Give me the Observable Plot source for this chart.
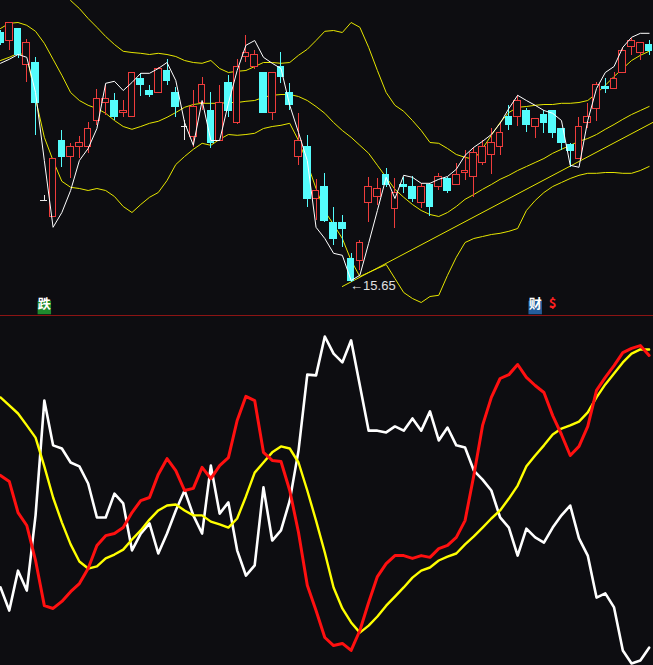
<!DOCTYPE html>
<html><head><meta charset="utf-8">
<script src="https://cdn.jsdelivr.net/npm/d3@7"></script>
<script src="https://cdn.jsdelivr.net/npm/@observablehq/plot@0.6"></script>
<style>
html,body{margin:0;padding:0;background:#0d0d11;}
#chart{width:653px;height:665px;overflow:hidden;background:#0d0d11;}
#divider{height:1px;background:#8c1414;}
svg{display:block;overflow:hidden;}
</style></head><body><div id="chart"></div>
<script>
// ---- candle data (index 0..74) ----
const opens  = [21.90,21.68,21.98,21.08,21.15,17.70,17.28,19.18,18.78,19.03,19.05,19.70,20.13,20.20,19.88,19.78,20.75,20.45,20.38,20.95,20.40,19.55,19.30,20.13,19.93,19.18,20.63,19.65,21.28,21.05,20.88,19.90,21.03,20.40,18.78,19.03,17.73,18.05,17.15,17.15,16.23,16.20,17.63,17.78,18.33,17.50,18.08,18.05,17.65,18.10,18.05,18.23,18.10,18.38,18.28,18.63,18.83,19.03,19.78,19.78,19.95,19.53,19.85,19.95,19.48,19.08,18.75,19.63,19.98,20.53,20.50,20.90,21.53,21.38,21.58];
const highs  = [21.95,22.15,22.00,21.73,21.28,17.83,18.75,19.45,19.13,19.30,19.65,20.48,20.58,20.38,20.20,20.90,20.88,20.58,21.03,21.23,20.53,19.70,20.45,20.78,20.40,20.58,20.83,21.23,21.83,21.45,20.88,20.90,21.40,20.63,19.88,19.33,18.23,18.38,17.53,17.33,16.38,16.70,18.28,18.25,18.50,18.25,18.28,18.30,18.13,18.13,18.38,18.28,18.63,18.95,19.03,19.20,19.50,19.63,20.08,20.33,20.00,19.73,19.95,19.95,19.48,19.13,19.78,20.13,20.65,20.75,20.90,21.53,21.75,21.63,21.70];
const lows   = [21.58,21.45,21.25,20.65,19.33,17.70,17.28,18.53,18.25,18.75,18.88,19.58,19.83,19.70,19.78,19.78,20.30,20.28,20.38,20.58,19.78,19.20,19.03,19.95,19.00,19.18,19.78,19.60,21.15,20.98,19.90,19.70,20.63,19.95,18.58,17.53,17.20,17.15,16.58,16.53,15.65,15.95,17.15,17.58,18.03,17.00,17.88,17.65,17.50,17.30,17.95,17.88,18.10,18.20,17.78,18.58,18.35,18.83,19.45,19.55,19.40,19.25,19.38,19.25,18.95,18.53,18.75,19.50,19.68,20.38,20.50,20.90,21.33,21.20,21.33];
const closes = [21.63,22.13,21.35,21.63,20.15,17.70,18.75,18.78,19.05,19.13,19.48,20.23,20.23,19.78,19.95,20.90,20.58,20.35,21.00,20.68,20.03,19.55,20.05,20.58,19.13,20.13,19.93,21.03,21.40,21.33,19.90,20.90,20.78,20.10,19.20,17.73,17.93,17.20,16.73,16.98,15.70,16.65,18.05,18.00,18.08,17.88,18.05,17.73,18.05,17.55,18.28,17.95,18.35,18.43,18.90,19.05,19.15,19.40,19.58,20.20,19.58,19.73,19.63,19.38,19.13,18.95,19.53,19.78,20.58,20.50,20.75,21.45,21.70,21.63,21.43];

// ---- Bollinger bands ----
const upperBand = [23.70,23.83,23.90,23.83,23.70,23.50,23.25,22.95,22.70,22.50,22.25,22.03,21.80,21.60,21.43,21.40,21.38,21.35,21.38,21.35,21.30,21.20,21.15,21.13,21.20,21.00,20.90,20.93,20.95,21.05,21.15,21.15,21.13,21.15,21.33,21.48,21.70,21.93,21.95,21.90,22.15,22.03,21.53,20.95,20.40,20.08,19.93,19.70,19.45,19.15,19.13,19.00,18.85,18.78,18.73,19.00,19.33,19.65,19.90,20.03,20.05,20.08,20.10,20.10,20.13,20.13,20.15,20.20,20.38,20.58,20.80,21.00,21.20,21.33,21.43];
const midBand   = [22.00,22.13,22.15,22.08,21.93,21.63,21.23,20.83,20.40,20.20,20.08,20.00,19.88,19.70,19.55,19.48,19.55,19.63,19.68,19.78,19.90,20.03,20.10,20.13,20.13,20.13,20.15,20.15,20.18,20.20,20.28,20.33,20.35,20.35,20.30,20.20,20.05,19.88,19.65,19.45,19.28,19.08,18.88,18.58,18.28,17.98,17.78,17.60,17.45,17.35,17.30,17.40,17.55,17.73,17.85,17.98,18.10,18.23,18.33,18.45,18.55,18.65,18.75,18.88,18.98,19.08,19.18,19.25,19.35,19.48,19.60,19.73,19.85,19.95,20.05];
const lowerBand = [21.20,21.28,21.38,21.33,20.25,19.28,18.70,18.18,18.03,18.00,17.95,18.00,17.95,17.80,17.55,17.40,17.60,17.78,17.90,18.20,18.60,18.80,18.98,19.13,19.08,19.23,19.35,19.33,19.35,19.38,19.50,19.55,19.58,19.63,19.20,18.63,18.00,17.43,17.10,16.75,16.20,15.80,15.90,16.00,16.10,15.75,15.40,15.25,15.15,15.30,15.33,15.83,16.28,16.65,16.75,16.80,16.85,16.88,16.93,17.00,17.45,17.70,17.90,18.05,18.15,18.25,18.33,18.38,18.38,18.40,18.40,18.38,18.38,18.45,18.55];
// ---- white price line ----
const priceLine = [21.13,21.23,21.35,21.28,20.40,18.70,17.03,17.40,17.95,18.70,19.00,19.50,20.63,20.68,20.45,20.65,20.88,20.88,21.00,21.15,20.70,19.65,19.08,20.20,19.20,19.20,20.13,20.95,21.58,21.70,21.28,21.13,21.00,20.08,19.40,18.70,17.03,16.75,16.38,16.33,15.70,15.83,16.63,17.45,18.28,17.75,18.33,18.28,18.13,18.13,18.23,18.30,18.48,18.83,19.03,19.18,19.35,19.63,20.00,20.33,20.20,20.08,19.95,19.88,19.70,18.58,18.53,19.70,20.50,20.90,21.05,21.53,21.78,21.88,21.88];
// ---- trend line (index, price) ----
const trendIdx   = [39, 74.5];
const trendPrice = [15.55, 19.66];
// ---- event markers ----
const eventIdx   = [5, 61, 63];
const eventText  = ["跌", "财", "$"];
const eventBg    = ["#1f8a2e", "#245e9c", null];
const eventFg    = ["#ffffff", "#ffffff", "#ff2020"];

// ---- lower indicator panel ----
const indWhite  = [22.3,15.7,27.1,21.4,42.9,75.7,62.9,62.0,58.0,56.9,52.0,42.3,42.3,49.1,46.3,32.9,37.7,40.6,32.0,37.7,44.3,50.0,42.9,37.7,57.1,43.4,46.6,32.9,25.7,28.6,50.9,35.7,38.6,47.1,61.4,83.1,82.9,94.0,89.1,86.6,92.9,80.0,67.1,67.1,66.6,68.3,67.1,70.6,67.1,72.6,64.3,68.0,62.9,62.3,55.7,53.1,50.0,42.3,39.4,31.4,39.1,36.6,35.1,39.4,42.9,45.7,36.3,31.4,19.4,20.6,16.6,4.3,0.6,1.4,5.1];
const indRed    = [54.3,52.6,43.7,40.0,30.0,17.1,16.3,18.3,21.1,23.4,27.7,34.3,37.1,37.7,39.4,43.7,47.1,48.0,54.6,59.1,55.7,50.0,50.6,56.6,53.4,57.1,59.4,70.0,76.9,75.7,60.9,58.6,58.3,50.0,38.0,22.9,15.7,8.0,5.7,6.3,4.3,10.0,18.0,25.4,29.1,31.4,31.4,30.6,31.4,30.9,33.4,34.3,36.6,41.4,54.3,68.6,76.6,82.0,83.1,86.0,82.3,80.0,78.0,71.4,66.0,60.0,62.6,68.3,78.6,82.3,85.7,89.4,90.6,91.4,88.6];
const indYellow = [76.6,74.3,72.0,68.6,65.1,56.9,48.0,40.9,34.6,29.7,27.7,28.3,30.6,31.7,33.1,36.0,38.6,41.7,44.3,45.7,46.0,44.3,42.9,42.9,41.1,40.3,39.4,42.0,48.3,55.1,58.0,60.9,62.6,62.0,58.0,50.0,41.4,32.3,22.3,16.3,12.3,9.4,11.4,14.0,17.1,19.7,22.3,25.1,27.1,28.0,30.0,31.1,32.0,34.6,36.9,39.4,42.0,44.3,47.7,51.4,56.9,60.0,62.9,66.0,67.7,68.6,69.7,72.3,76.6,80.3,83.4,86.6,89.1,90.3,90.3];

// ---- build ----
const BG = "#0d0d11", RED = "#ee3c3c", CYAN = "#54fcfc", YEL = "#e6e600";
const W = 653, TOPH = 315, BOTH = 349;
const candles = opens.map((o, i) => ({i, open: o, high: highs[i], low: lows[i], close: closes[i]}));
const colorOf = d => d.close > d.open ? RED : d.close < d.open ? CYAN : "#e8e8e8";
const series = arr => arr.map((v, i) => ({i, v}));
const trend = trendIdx.map((i, k) => ({i, v: trendPrice[k]}));
const events = eventIdx.map((i, k) => ({i, text: eventText[k], bg: eventBg[k], fg: eventFg[k]}));
const minC = candles.reduce((a, b) => b.low < a.low ? b : a);
const BW = 0.38;

const topChart = Plot.plot({
  width: W, height: TOPH, margin: 0,
  x: {domain: [0, 74.5], axis: null},
  y: {domain: [22.7 - TOPH / 40, 22.7], axis: null},
  color: {type: "identity"},
  style: {background: BG},
  marks: [
    Plot.line(series(upperBand), {x: "i", y: "v", stroke: YEL, strokeWidth: 1, clip: true}),
    Plot.line(series(midBand), {x: "i", y: "v", stroke: YEL, strokeWidth: 1, clip: true}),
    Plot.line(series(lowerBand), {x: "i", y: "v", stroke: YEL, strokeWidth: 1, clip: true}),
    Plot.line(trend, {x: "i", y: "v", stroke: YEL, strokeWidth: 1, clip: true}),
    Plot.ruleX(candles, {x: "i", y1: "high", y2: d => Math.max(d.open, d.close), stroke: colorOf, strokeWidth: 1, shapeRendering: "crispEdges"}),
    Plot.ruleX(candles, {x: "i", y1: d => Math.min(d.open, d.close), y2: "low", stroke: colorOf, strokeWidth: 1, shapeRendering: "crispEdges"}),
    Plot.rect(candles.filter(d => d.open !== d.close), {
      x1: d => d.i - BW, x2: d => d.i + BW, y1: "open", y2: "close",
      fill: d => d.close > d.open ? BG : CYAN, stroke: colorOf, strokeWidth: 1, shapeRendering: "crispEdges"
    }),
    Plot.ruleY(candles.filter(d => d.open === d.close), {y: "close", x1: d => d.i - BW, x2: d => d.i + BW, stroke: colorOf, strokeWidth: 1, shapeRendering: "crispEdges"}),
    Plot.line(series(priceLine), {x: "i", y: "v", stroke: "#ffffff", strokeWidth: 1, clip: true}),
    Plot.text([minC], {x: "i", y: "low", text: d => "←" + d.low.toFixed(2), textAnchor: "start", fill: "#e0e0e0", fontSize: 13, fontFamily: "Liberation Sans, Arial, sans-serif", dy: 3, dx: -1}),
    Plot.dot(events.filter(e => e.bg), {x: "i", frameAnchor: "bottom", dy: -8, symbol: "square", r: 7.6, fill: "bg", stroke: null}),
    Plot.text(events, {x: "i", frameAnchor: "bottom", dy: -8, text: "text", fill: "fg", fontSize: 13, fontWeight: "bold", fontFamily: "Noto Sans CJK SC, sans-serif"})
  ]
});

const bottomChart = Plot.plot({
  width: W, height: BOTH, margin: 0,
  x: {domain: [0, 74.5], axis: null},
  y: {domain: [0, BOTH / 3.5], axis: null},
  style: {background: BG},
  marks: [
    Plot.line(series(indWhite), {x: "i", y: "v", stroke: "#ffffff", strokeWidth: 2.6}),
    Plot.line(series(indYellow), {x: "i", y: "v", stroke: "#ffff00", strokeWidth: 2.4}),
    Plot.line(series(indRed), {x: "i", y: "v", stroke: "#ff1010", strokeWidth: 3})
  ]
});

const root = document.getElementById("chart");
root.appendChild(topChart);
const divider = document.createElement("div"); divider.id = "divider"; root.appendChild(divider);
root.appendChild(bottomChart);
</script></body></html>
